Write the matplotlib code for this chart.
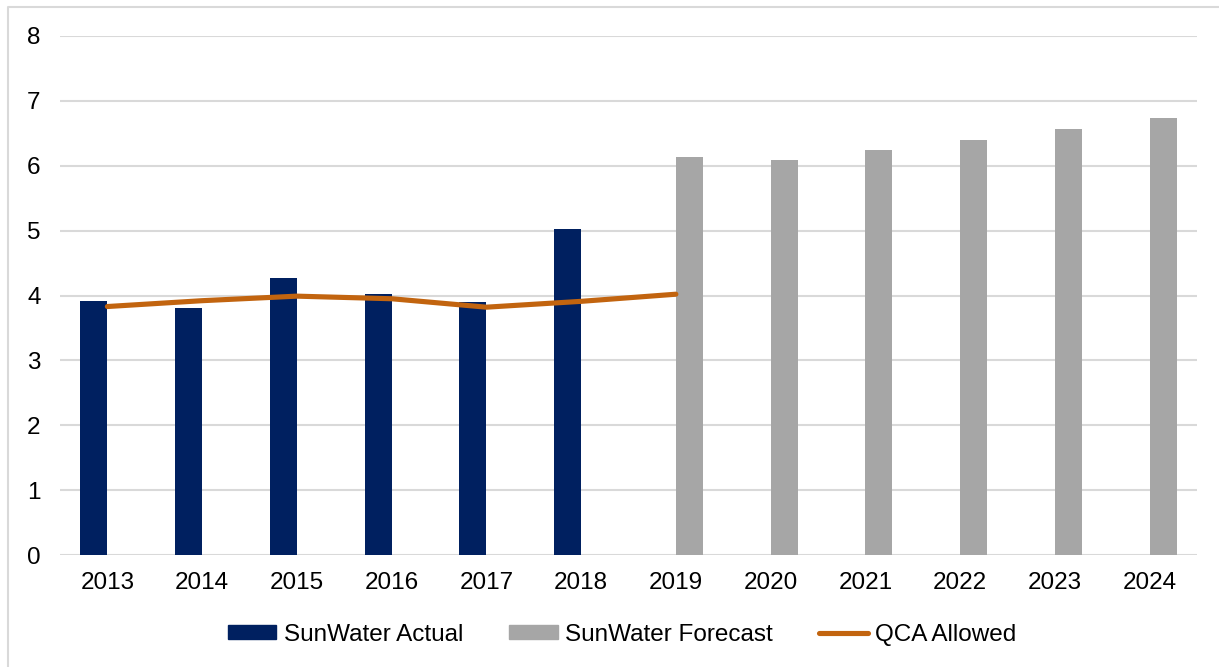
import matplotlib
matplotlib.use("Agg")
import matplotlib.pyplot as plt
from matplotlib.lines import Line2D
from matplotlib.patches import Patch
import numpy as np

years = ["2013", "2014", "2015", "2016", "2017", "2018", "2019", "2020", "2021", "2022", "2023", "2024"]
actual = [3.91, 3.80, 4.27, 4.03, 3.90, 5.03, None, None, None, None, None, None]
forecast = [None, None, None, None, None, None, 6.14, 6.09, 6.25, 6.40, 6.56, 6.73]
qca_allowed = [3.83, 3.92, 3.99, 3.95, 3.82, 3.91, 4.02]

navy = "#002060"
gray = "#A6A6A6"
orange = "#C2640F"
grid_c = "#D9D9D9"

plt.rcParams['font.family'] = ['Liberation Sans', 'DejaVu Sans']

W, H = 1219, 667
fig = plt.figure(figsize=(W / 100, H / 100), dpi=100)
ax = fig.add_axes([60 / W, 1 - 555 / H, (1197 - 60) / W, (555 - 36) / H])

x = np.arange(len(years))
bw = 27 / 94.8
a_x = [xi for xi, v in zip(x, actual) if v is not None]
a_v = [v for v in actual if v is not None]
f_x = [xi for xi, v in zip(x, forecast) if v is not None]
f_v = [v for v in forecast if v is not None]

ax.bar(a_x, a_v, width=bw, align='edge', color=navy, zorder=3)
ax.bar(np.array(f_x), f_v, width=bw, align='edge', color=gray, zorder=3)
# actual bars sit to the left of the category centre
for p in ax.patches[:len(a_v)]:
    p.set_x(p.get_x() - bw)

ax.plot(x[:len(qca_allowed)], qca_allowed, color=orange, lw=3.7,
        solid_capstyle='round', solid_joinstyle='round', zorder=4)

ax.set_xlim(-0.5, len(years) - 0.5)
ax.set_ylim(0, 8)
ax.set_yticks(range(0, 9))
ax.set_xticks(x)
ax.set_xticklabels(years)
ax.grid(axis='y', color=grid_c, lw=1.5, zorder=0)
ax.set_axisbelow(True)
for s in ax.spines.values():
    s.set_visible(False)
ax.tick_params(axis='both', length=0, labelsize=17.5, colors='black')
ax.tick_params(axis='y', pad=14)
ax.tick_params(axis='x', pad=12)

handles = [Patch(color=navy, label="SunWater Actual"),
           Patch(color=gray, label="SunWater Forecast"),
           Line2D([0], [0], color=orange, lw=3.7, solid_capstyle='round', label="QCA Allowed")]
fig.legend(handles=handles, loc='center', bbox_to_anchor=(622 / W, 1 - 635 / H), ncol=3,
           frameon=False, fontsize=17.5, handlelength=2.0, handleheight=0.5,
           handletextpad=0.3, columnspacing=1.9)

# chart border (top and left)
fig.add_artist(Line2D([8 / W, 8 / W, 1.0], [0.0, 1 - 7 / H, 1 - 7 / H],
                      transform=fig.transFigure, color="#D9D9D9", lw=1.5))

fig.savefig("out.png", dpi=100)
